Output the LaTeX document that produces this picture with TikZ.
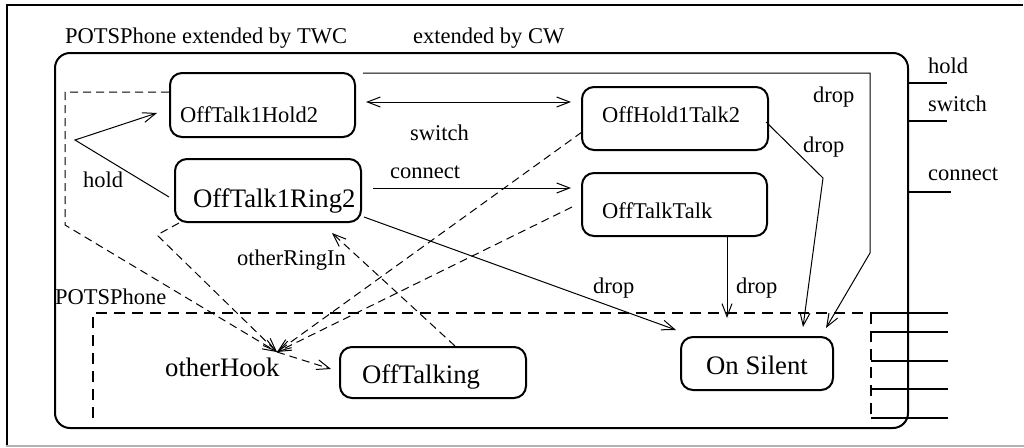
\documentclass[tikz,border=0pt]{standalone}
\usepackage{fontspec}
\setmainfont{Liberation Serif}
\newfontfamily\tms{Liberation Serif}
\usetikzlibrary{arrows.meta}
\begin{document}
\begin{tikzpicture}[x=1pt,y=-1pt,
  state/.style={draw, line width=2pt, rounded corners=12pt, inner sep=0pt},
  sm/.style={font=\tms\fontsize{22.5}{27}\selectfont, inner sep=0pt, anchor=base west},
  lg/.style={font=\tms\fontsize{26.7}{31}\selectfont, inner sep=0pt, anchor=base west},
  conn/.style={line width=1pt},
  arr/.style={-{Straight Barb[length=13pt,width=10pt]}},
  darr/.style={{Straight Barb[length=13pt,width=10pt]}-{Straight Barb[length=13pt,width=10pt]}},
  dconn/.style={line width=1pt, dash pattern=on 8pt off 5pt},
  thickdash/.style={line width=2pt, dash pattern=on 11pt off 7pt},
  stub/.style={line width=2pt},
]
\useasboundingbox (0,0) rectangle (1024,447);
% outer frame
\draw[line width=2pt] (7,446) -- (7,5) -- (1023,5);
\draw[gray!60, line width=1.2pt] (6,446) -- (1024,446);

% title
\node[sm] (title) at (65,43) {POTSPhone extended by TWC\hspace{66pt}extended by CW};

% big container
\node[draw, line width=2pt, rounded corners=15pt, minimum width=853pt, minimum height=375pt, inner sep=0pt] (big) at (481.5,240.5) {};

% POTSPhone dashed region
\draw[thickdash] (93,418) -- (93,313) -- (871,313);
\draw[thickdash] (871,313) -- (871,418);
\node[sm] (pots) at (55,304) {POTSPhone};

% right interface stubs
\draw[stub] (908,83) -- (947,83);
\draw[stub] (908,121) -- (947,121);
\draw[stub] (907,192) -- (951,192);
\node[sm] (ihold) at (928,73) {hold};
\node[sm] (iswitch) at (928,111) {switch};
\node[sm] (iconnect) at (928,180) {connect};
\foreach \yy in {313,332,361,389,418} \draw[stub] (871,\yy) -- (948,\yy);

% states
\node[state, minimum width=185pt, minimum height=64pt] (A) at (262.5,105) {};
\node[sm] (At) at (180,122) {OffTalk1Hold2};
\node[state, minimum width=186pt, minimum height=63pt] (B) at (268,190.5) {};
\node[lg] (Bt) at (193,207) {OffTalk1Ring2};
\node[state, minimum width=186pt, minimum height=63pt] (C) at (675,118.5) {};
\node[sm] (Ct) at (602,122) {OffHold1Talk2};
\node[state, minimum width=185pt, minimum height=63pt] (D) at (674.5,204.5) {};
\node[sm] (Dt) at (602,218) {OffTalkTalk};
\node[state, minimum width=186pt, minimum height=51pt] (E) at (433,372.5) {};
\node[lg] (Et) at (362,383) {OffTalking};
\node[state, minimum width=152pt, minimum height=53pt] (F) at (757,363.5) {};
\node[lg, anchor=base] (Ft) at (757,374) {On Silent};

% junction
\coordinate (hook) at (277,352);
\node[lg] (hookt) at (165,376) {otherHook};

% switch
\draw[conn, darr] ([shift={(10,-3)}]A.east) -- ([shift={(-10,-16.5)}]C.west);
\node[sm] (swl) at (410,140) {switch};

% connect
\draw[conn, arr] ([shift={(11,-2.5)}]B.east) -- ([shift={(-10,-16.5)}]D.west);
\node[sm] (cnl) at (390,178) {connect};

% hold
\coordinate (holdpt) at (75,140);
\draw[conn, arr] ([shift={(-5,6.5)}]B.west) -- (holdpt) -- ([shift={(-12,8)}]A.west);
\node[sm] (hdl) at (83,187) {hold};

% drops
\draw[conn, arr] ([shift={(2,26.5)}]B.east) -- ([shift={(-4,-6)}]F.north west);
\node[sm] (dr1) at (593,293) {drop};
\draw[conn, arr] ([xshift=52.5pt]D.south) -- ([shift={(-30,-18)}]F.north);
\node[sm] (dr2) at (736,293) {drop};
\coordinate (cbend) at (823,178);
\draw[conn, arr] ([shift={(-3,3.5)}]C.east) -- (cbend) -- ([shift={(46,-9)}]F.north);
\node[sm] (dr3) at (803,152) {drop};
\coordinate (abend1) at (870,73);
\coordinate (abend2) at (870,253);
\draw[conn, arr] ([shift={(7,-32)}]A.east) -- (abend1) -- (abend2) -- ([shift={(-8,-8)}]F.north east);
\node[sm] (dr4) at (813,102) {drop};

% otherHook dashed transitions
\coordinate (ahk1) at (65,92);
\coordinate (ahk2) at (65,225);
\draw[dconn, arr] ([shift={(0,-13)}]A.west) -- (ahk1) -- (ahk2) -- (hook);
\coordinate (bhk) at (157,235);
\draw[dconn, arr] ([shift={(5,0)}]B.south west) -- (bhk) -- (hook);
\draw[dconn, arr] ([shift={(1,13.5)}]C.west) -- (hook);
\draw[dconn, arr] ([shift={(-9,2.5)}]D.west) -- (hook);
\draw[dconn, arr] (hook) -- ([shift={(-8,-3.5)}]E.west);

% otherRingIn
\draw[dconn, arr] ([shift={(22,0)}]E.north) -- ([shift={(64,10)}]B.south);
\node[sm] (orl) at (237,265) {otherRingIn};
\end{tikzpicture}
\end{document}
